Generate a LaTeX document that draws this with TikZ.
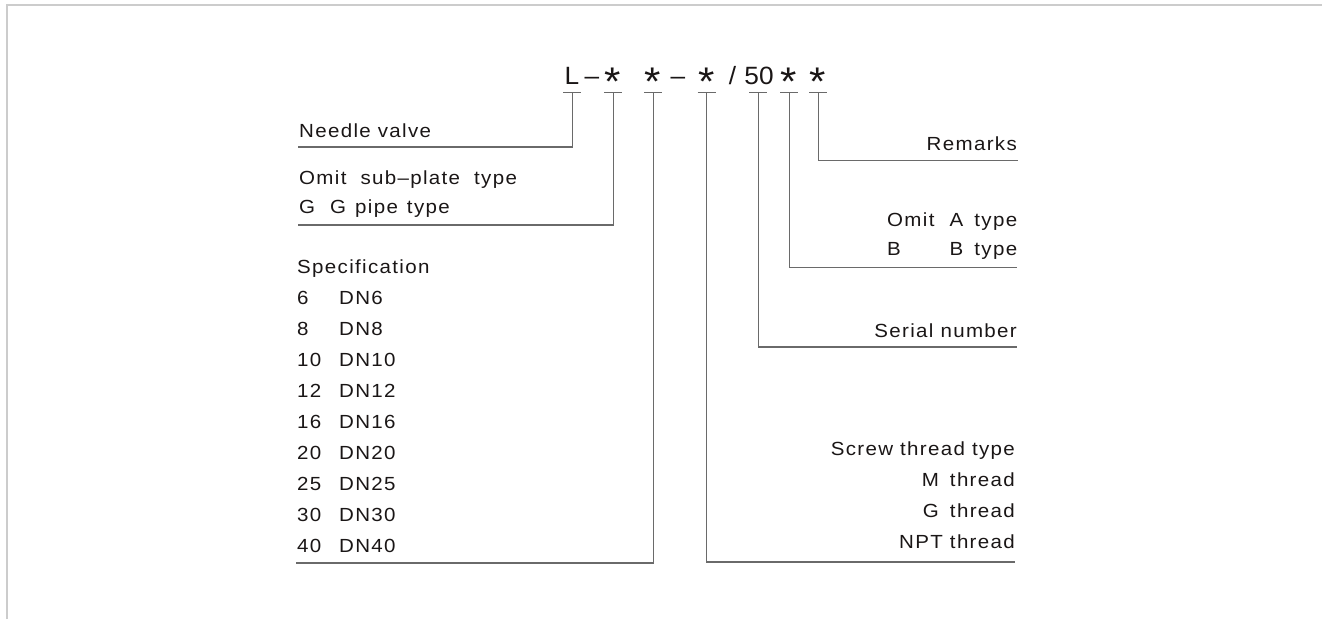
\documentclass[tikz,border=0pt]{standalone}
\usepackage{fontspec}
\setmainfont{Liberation Sans}[LetterSpace=7, FakeStretch=1.08]
\newfontfamily\titlefont{Liberation Sans}[FakeStretch=1.05]
\definecolor{ink}{HTML}{1A1616}
\definecolor{rule}{HTML}{6A6A6A}
\definecolor{frame}{HTML}{CCCCCC}
\begin{document}
\begin{tikzpicture}[x=1pt,y=-1pt,
  lbl/.style={inner sep=0pt, text=ink, font=\fontsize{19}{21}\selectfont},
  ttl/.style={inner sep=0pt, text=ink, font=\titlefont\fontsize{25}{27}\selectfont, anchor=base},
  star/.style={inner sep=0pt, text=ink, font=\titlefont\fontsize{40}{42}\selectfont, anchor=base},
  lead/.style={draw=rule, line width=1.5pt},
  tickmark/.style={draw=rule, line width=1.5pt}]
\useasboundingbox (0,0) rectangle (1322,619);
\draw[frame, line width=2pt] (7,619) -- (7,5) -- (1322,5);

% title
\node[ttl] (cL) at (572,84) {L};
\node[ttl] (d1) at (592,84) {–};
\node[star] (s1) at (613,95.5) {*};
\node[star] (s2) at (653,95.5) {*};
\node[ttl] (d2) at (678,84) {–};
\node[star] (s3) at (707,95.5) {*};
\node[ttl] (sl) at (732.5,84) {/};
\node[ttl] (n50) at (759,84) {50};
\node[star] (s4) at (789,95.5) {*};
\node[star] (s5) at (818,95.5) {*};

% tick points
\coordinate (kL) at (572.3,92.7);
\coordinate (k1) at (613.3,92.7);
\coordinate (k2) at (653.3,92.7);
\coordinate (k3) at (706.7,92.7);
\coordinate (k4) at (758.3,92.7);
\coordinate (k5) at (789.3,92.7);
\coordinate (k6) at (818.3,92.7);
\foreach \k in {kL,k1,k2,k3,k4,k5,k6}
  \draw[tickmark] ([xshift=-9pt]\k) -- ([xshift=9pt]\k);

% leader ends
\coordinate (eN) at (298,147);
\coordinate (eO) at (298,225);
\coordinate (eS) at (296,563);
\coordinate (eT) at (1015,562);
\coordinate (eSer) at (1017,347);
\coordinate (eB) at (1017,267.5);
\coordinate (eR) at (1018,160.5);

\draw[lead] (kL) |- (eN);
\draw[lead] (k1) |- (eO);
\draw[lead] (k2) |- (eS);
\draw[lead] (k3) |- (eT);
\draw[lead] (k4) |- (eSer);
\draw[lead] (k5) |- (eB);
\draw[lead] (k6) |- (eR);

% left labels
\node[lbl, anchor=base west] (needle) at (299,137.5) {Needle valve};
\node[lbl, anchor=base west] (omit) at (299,184) {Omit\hspace{7pt} sub–plate\hspace{7pt} type};
\node[lbl, anchor=base west] (gpipe) at (299,213) {\makebox[31pt][l]{G}G\hspace{2pt} pipe\hspace{2pt} type};
\node[lbl, anchor=base west] (spec) at (297,273) {Specification};
\foreach \a/\b [count=\i] in {6/DN6,8/DN8,10/DN10,12/DN12,16/DN16,20/DN20,25/DN25,30/DN30,40/DN40}
  \node[lbl, anchor=base west] (r\i) at (297,{273+31*\i}) {\makebox[42pt][l]{\a}\b};

% right labels
\node[lbl, anchor=base east] (rem) at (1017,150) {Remarks};
\node[lbl, anchor=base west] (omA) at (887,226) {\hbox to 130pt{Omit\hfill A\hspace{4pt} type}};
\node[lbl, anchor=base west] (bB) at (887,255) {\hbox to 130pt{B\hfill B\hspace{4pt} type}};
\node[lbl, anchor=base east] (ser) at (1017,337) {Serial number};
\node[lbl, anchor=base east] (scr) at (1015,455) {Screw thread type};
\node[lbl, anchor=base east] (mth) at (1015,486) {M\hspace{4pt} thread};
\node[lbl, anchor=base east] (gth) at (1015,517) {G\hspace{4pt} thread};
\node[lbl, anchor=base east] (npt) at (1015,548) {NPT thread};
\end{tikzpicture}
\end{document}
